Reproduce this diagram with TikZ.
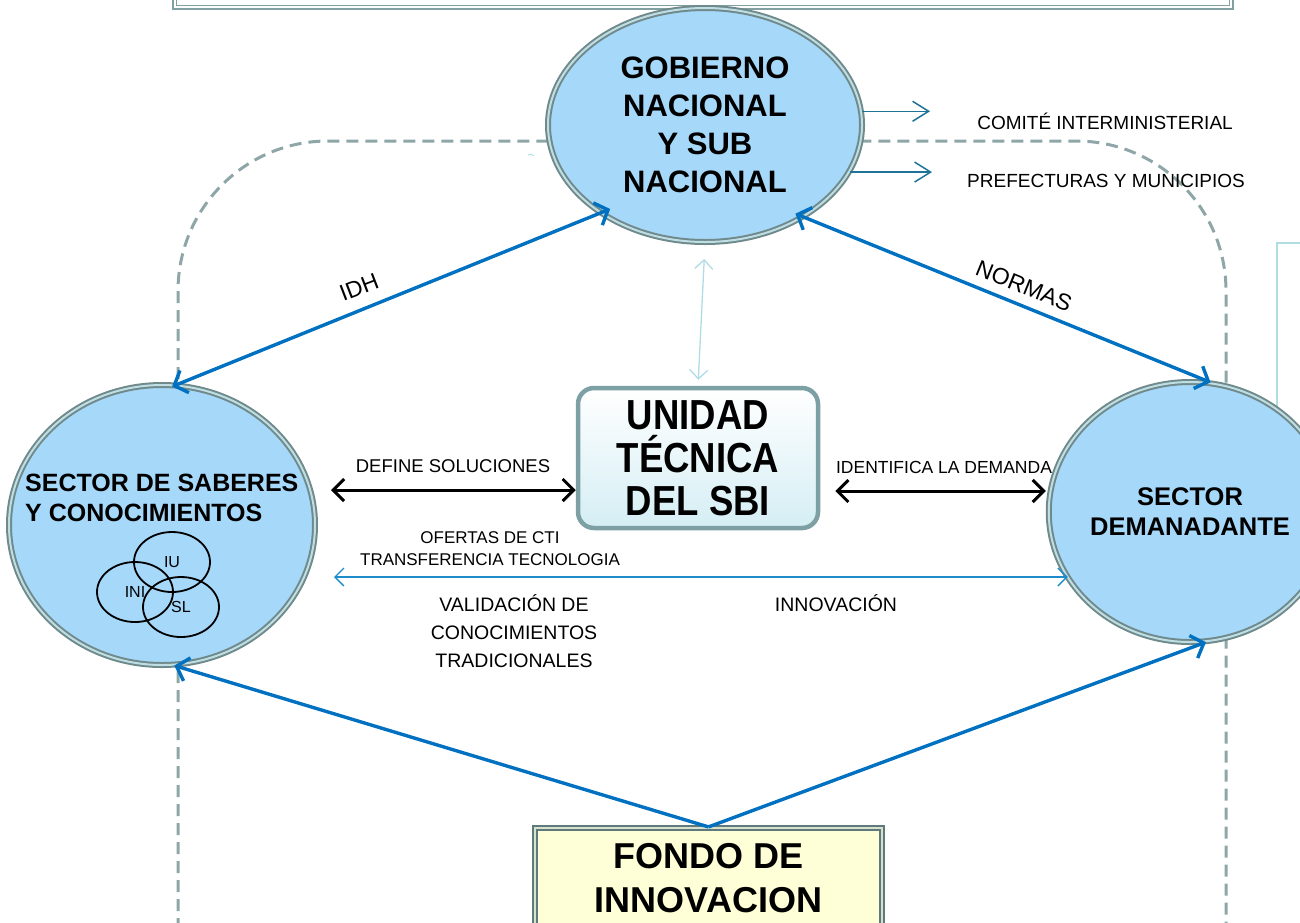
\documentclass[tikz,border=0pt]{standalone}
\usepackage{fontspec}
\setmainfont{Liberation Sans}
\newfontfamily\unifont[FakeStretch=0.87]{Liberation Sans}
\usetikzlibrary{shapes.geometric,arrows.meta,calc}
\definecolor{arrblue}{RGB}{0,112,192}
\definecolor{thinblue}{RGB}{30,140,200}
\definecolor{tealarr}{RGB}{30,115,150}
\definecolor{lightc}{RGB}{176,220,228}
\definecolor{dashc}{RGB}{143,166,168}
\definecolor{ellfill}{RGB}{166,216,250}
\definecolor{ellbord}{RGB}{112,138,140}
\definecolor{ellhi}{RGB}{190,222,228}
\definecolor{framec}{RGB}{128,160,162}
\definecolor{fondofill}{RGB}{255,255,215}
\definecolor{fondobord}{RGB}{95,122,122}
\definecolor{unibord}{RGB}{125,160,165}
\begin{document}
\begin{tikzpicture}[x=1pt,y=-1pt,
  ell/.style={ellipse,fill=ellfill,draw=ellbord,line width=2pt,double=ellhi,double distance=2pt,inner sep=0pt,align=center},
  venn/.style={ellipse,draw=black,line width=1.8pt,minimum width=76pt,minimum height=60pt,inner sep=0pt,font=\fontsize{16}{18}\selectfont},
  lab/.style={inner sep=0pt,align=center},
  bigarr/.style={draw=arrblue,line width=3.4pt,arrows={-Straight Barb[length=11pt,width=24pt]}},
  bigarr2/.style={draw=arrblue,line width=3.4pt,arrows={Straight Barb[length=11pt,width=24pt]-Straight Barb[length=11pt,width=24pt]}},
  blkarr/.style={draw=black,line width=3pt,arrows={Straight Barb[length=11pt,width=22pt]-Straight Barb[length=11pt,width=22pt]}},
  thinarr/.style={line width=1.3pt,arrows={Straight Barb[length=9pt,width=18pt]-Straight Barb[length=9pt,width=18pt]}},
  tealone/.style={draw=tealarr,line width=1.5pt,arrows={-Straight Barb[length=16pt,width=20pt]}},
  loopline/.style={draw=dashc,line width=3pt,dash pattern=on 12pt off 7pt,rounded corners=150pt}
]
\useasboundingbox (0,0) rectangle (1300,922);
% dashed loop
\draw[loopline] (178,930) -- (178,141) -- (1226,141) -- (1226,930);
% right thin box
\draw[lightc,line width=1.3pt] (1305,243) -- (1277,243) -- (1277,450);
% top frame
\draw[framec,line width=1.6pt] (173,-6) rectangle (1233,9);
\draw[framec,line width=0.8pt] (176.5,-6) rectangle (1229.5,5);
% small artifact
\draw[lightc,line width=1pt] (528,155) arc[start angle=120,end angle=50,radius=5pt];

% main nodes
\node[ell,minimum width=314pt,minimum height=234pt,font=\fontsize{31}{38}\selectfont\bfseries] (gob) at (705,125) {GOBIERNO\\NACIONAL\\Y SUB\\NACIONAL};
\node[ell,minimum width=306pt,minimum height=280pt] (saber) at (162,525) {};
\node[lab,anchor=west,align=left,font=\fontsize{25}{30}\selectfont\bfseries] (sabertxt) at (25,498) {SECTOR DE SABERES\\Y CONOCIMIENTOS};
\node[ell,minimum width=276pt,minimum height=260pt,font=\fontsize{25.5}{30}\selectfont\bfseries] (dem) at (1190,512) {SECTOR\\DEMANADANTE};
\node[rectangle,rounded corners=16pt,minimum width=240pt,minimum height=140pt,draw=unibord,line width=4.5pt,top color=white,bottom color={rgb,255:red,212;green,238;blue,244},align=center,inner sep=0pt,font=\unifont\bfseries\fontsize{42}{43}\selectfont] (unidad) at (698,458) {UNIDAD\\TÉCNICA\\DEL SBI};
\node[rectangle,minimum width=347pt,minimum height=100pt,fill=fondofill,draw=fondobord,line width=2.2pt,double={rgb,255:red,215;green,225;blue,205},double distance=2pt,align=center,inner sep=0pt,font=\fontsize{36}{44}\selectfont\bfseries] (fondo) at (708.5,878) {FONDO DE\\INNOVACION};

% venn
\node[venn] (iu) at (172,562) {IU};
\node[venn] (ini) at (135,592) {INI};
\node[venn] (sl) at (181,607) {SL};

% top right arrows
\coordinate (c1) at (930,0);
\coordinate (c2) at (932,0);
\draw[tealone] (gob.5) -- (gob.5 -| c1);
\draw[tealone] (gob.-18) -- (gob.-18 -| c2);
\node[lab,font=\fontsize{19}{22}\selectfont] (comite) at (1105,121) {COMITÉ INTERMINISTERIAL};
\node[lab,font=\fontsize{19}{22}\selectfont] (prefect) at (1106,181) {PREFECTURAS Y MUNICIPIOS};

% IDH / NORMAS
\draw[bigarr2,shorten <=-5pt,shorten >=-11pt] (saber.84) -- (gob.220);
\node[lab,rotate=21,font=\fontsize{23}{26}\selectfont] (idh) at (359,287) {IDH};
\draw[bigarr2,shorten <=-9pt,shorten >=0pt] (gob.317) -- (dem.81);
\node[lab,rotate=-22,font=\fontsize{23}{26}\selectfont] (normas) at (1024,286) {NORMAS};

% vertical light arrow
\draw[thinarr,draw=lightc,shorten <=16pt,shorten >=6pt] (gob.south) -- (unidad.north);

% black arrows
\draw[blkarr,shorten <=15pt] (saber.east |- 0,490) -- (unidad.west |- 0,490);
\node[lab,font=\fontsize{18.5}{22}\selectfont] (defsol) at (453,466) {DEFINE SOLUCIONES};
\draw[blkarr,shorten <=15pt,shorten >=2pt] (unidad.east |- 0,491) -- (dem.west |- 0,491);
\node[lab,font=\fontsize{17.5}{21}\selectfont] (identif) at (944,467) {IDENTIFICA LA DEMANDA};

% thin long arrow
\draw[thinarr,draw=thinblue,shorten <=18pt,shorten >=-20pt] (saber.east |- 0,577) -- (dem.west |- 0,577);
\node[lab,font=\fontsize{17}{22}\selectfont] (ofertas) at (490,549) {OFERTAS DE CTI\\TRANSFERENCIA TECNOLOGIA};
\node[lab,font=\fontsize{19.5}{28}\selectfont] (valid) at (514,631) {VALIDACIÓN DE\\CONOCIMIENTOS\\TRADICIONALES};
\node[lab,font=\fontsize{19.5}{24}\selectfont] (innov) at (836,603) {INNOVACIÓN};

% fondo arrows
\draw[bigarr] (fondo.north) -- (saber.275);
\draw[bigarr] (fondo.north) -- (dem.277);
\end{tikzpicture}
\end{document}
